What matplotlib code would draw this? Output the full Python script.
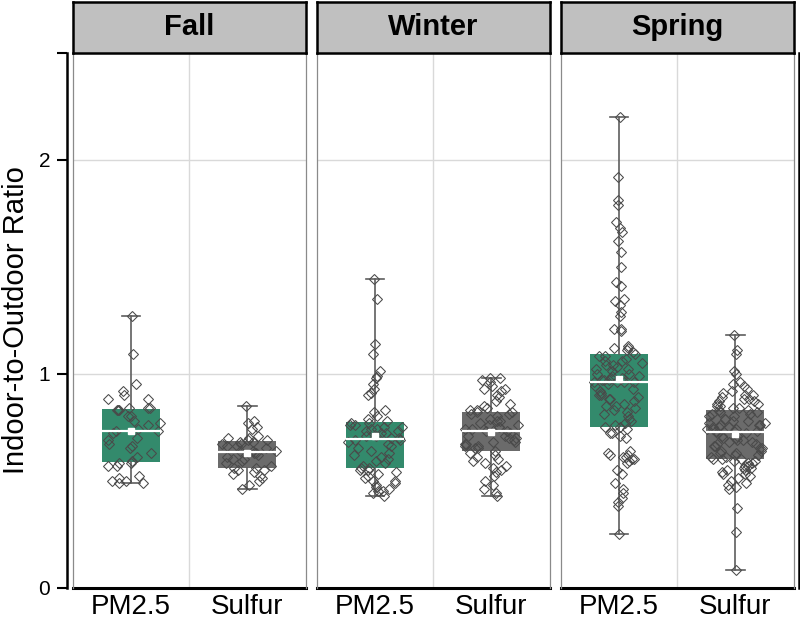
import numpy as np
import matplotlib
matplotlib.use("Agg")
import matplotlib.pyplot as plt
from matplotlib.lines import Line2D

plt.rcParams['font.family'] = ['Liberation Sans', 'DejaVu Sans']

"""Data: indoor-to-outdoor ratios read off the figure"""
seasons = ["Fall", "Winter", "Spring"]
species = ["PM2.5", "Sulfur"]

fall_pm25 = [1.27, 1.09, 0.95, 0.92, 0.90, 0.88, 0.88, 0.84, 0.84, 0.84,
             0.83, 0.83, 0.83, 0.80, 0.80, 0.78, 0.77, 0.76, 0.74, 0.73,
             0.73, 0.72, 0.70, 0.69, 0.67, 0.66, 0.65, 0.63, 0.61, 0.59,
             0.58, 0.58, 0.57, 0.57, 0.52, 0.51, 0.50, 0.50, 0.49, 0.49]
fall_sulfur = [0.85, 0.78, 0.77, 0.75, 0.74, 0.71, 0.70, 0.70, 0.69, 0.69,
               0.68, 0.68, 0.67, 0.67, 0.66, 0.66, 0.65, 0.64, 0.64, 0.64,
               0.63, 0.63, 0.62, 0.61, 0.60, 0.60, 0.59, 0.58, 0.57, 0.56,
               0.56, 0.55, 0.55, 0.54, 0.53, 0.52, 0.51, 0.50, 0.48, 0.46]
winter_pm25 = [1.44, 1.35, 1.14, 1.09, 1.01, 0.99, 0.98, 0.95, 0.93, 0.91, 0.90, 0.83, 0.82, 0.80, 0.79, 0.78,
               0.77, 0.77, 0.76, 0.76, 0.75, 0.75, 0.74, 0.74, 0.73, 0.73, 0.72, 0.72, 0.71, 0.71, 0.70, 0.70,
               0.69, 0.69, 0.68, 0.67, 0.66, 0.65, 0.64, 0.63, 0.62, 0.61, 0.60, 0.59, 0.58, 0.57, 0.56, 0.56,
               0.55, 0.55, 0.54, 0.53, 0.52, 0.51, 0.50, 0.50, 0.49, 0.48, 0.47, 0.46, 0.45, 0.45, 0.44, 0.43]
winter_sulfur = [0.98, 0.98, 0.97, 0.96, 0.94, 0.93, 0.93, 0.92, 0.90, 0.89, 0.87, 0.86, 0.85, 0.84, 0.83, 0.83,
                 0.82, 0.82, 0.81, 0.81, 0.80, 0.79, 0.78, 0.78, 0.77, 0.76, 0.76, 0.75, 0.75, 0.74, 0.74, 0.73,
                 0.73, 0.72, 0.71, 0.71, 0.70, 0.70, 0.69, 0.68, 0.68, 0.67, 0.67, 0.66, 0.66, 0.65, 0.65, 0.64,
                 0.63, 0.62, 0.61, 0.60, 0.59, 0.58, 0.57, 0.56, 0.55, 0.54, 0.52, 0.50, 0.48, 0.46, 0.44, 0.43]
spring_pm25 = [2.20, 1.92, 1.81, 1.79, 1.71, 1.68, 1.66, 1.62, 1.57, 1.50,
               1.43, 1.41, 1.35, 1.34, 1.32, 1.29, 1.27, 1.21, 1.21, 1.20,
               1.13, 1.12, 1.12, 1.11, 1.10,
               1.09, 1.08, 1.08, 1.07, 1.06, 1.06, 1.05, 1.04, 1.04, 1.03,
               1.02, 1.02, 1.01, 1.00, 1.00, 0.99, 0.99, 0.98, 0.98, 0.97,
               0.97, 0.97, 0.96, 0.96, 0.96,
               0.96, 0.95, 0.94, 0.93, 0.92, 0.91, 0.90, 0.90, 0.89, 0.88,
               0.88, 0.87, 0.86, 0.85, 0.85, 0.84, 0.83, 0.82, 0.81, 0.80,
               0.79, 0.78, 0.77, 0.76, 0.75,
               0.75, 0.74, 0.72, 0.72, 0.71, 0.70, 0.64, 0.63, 0.62, 0.62,
               0.61, 0.61, 0.60, 0.60, 0.59, 0.58, 0.55, 0.53, 0.49, 0.46,
               0.44, 0.42, 0.40, 0.38, 0.25]
spring_sulfur = [1.18, 1.11, 1.09, 1.01, 1.00, 0.96, 0.95, 0.94, 0.93, 0.92,
                 0.91, 0.90, 0.90, 0.89, 0.88, 0.88, 0.87, 0.87, 0.86, 0.86,
                 0.85, 0.85, 0.84, 0.84, 0.83,
                 0.83, 0.82, 0.82, 0.81, 0.81, 0.80, 0.80, 0.79, 0.79, 0.78,
                 0.78, 0.77, 0.77, 0.76, 0.76, 0.76, 0.75, 0.75, 0.75, 0.74,
                 0.74, 0.74, 0.73, 0.73, 0.73,
                 0.72, 0.72, 0.71, 0.71, 0.70, 0.70, 0.69, 0.69, 0.68, 0.68,
                 0.67, 0.67, 0.66, 0.66, 0.65, 0.65, 0.64, 0.64, 0.63, 0.63,
                 0.62, 0.62, 0.61, 0.61, 0.60,
                 0.60, 0.60, 0.59, 0.59, 0.58, 0.58, 0.57, 0.57, 0.56, 0.56,
                 0.55, 0.55, 0.54, 0.53, 0.53, 0.52, 0.51, 0.50, 0.49, 0.48,
                 0.47, 0.46, 0.37, 0.26, 0.08]

groups = {"Fall": [fall_pm25, fall_sulfur],
          "Winter": [winter_pm25, winter_sulfur],
          "Spring": [spring_pm25, spring_sulfur]}

"""Style"""
box_colors = ["#338a6c", "#6b6b6b"]
line_grey = "#5e5e5e"
grid_grey = "#d9d9d9"
W, H = 800, 621
panel_left = [73, 317, 561]  # px
panel_w = 232.5
panel_top, panel_bot = 52.7, 587.5
strip_top = 2.0

rng = np.random.default_rng(7)  # horizontal jitter only


def jitter_width(v, half=0.26, bw=0.05):
    # sina-like: spread scales with local point density
    v = np.asarray(v)
    d = np.exp(-0.5 * ((v[:, None] - v[None, :]) / bw) ** 2).sum(axis=1)
    return half * d / d.max()


fig = plt.figure(figsize=(8, 6.21), dpi=100)

for i, season in enumerate(seasons):
    ax = fig.add_axes([panel_left[i] / W, 1 - panel_bot / H,
                       panel_w / W, (panel_bot - panel_top) / H])
    vals = groups[season]
    bp = ax.boxplot(vals, positions=[1, 2], widths=0.5, whis=(0, 100),
                    patch_artist=True, showmeans=True, showfliers=False,
                    capwidths=0.16,
                    boxprops=dict(linewidth=0),
                    medianprops=dict(color="white", linewidth=1.6, zorder=4),
                    meanprops=dict(marker="s", markerfacecolor="white",
                                   markeredgecolor="white", markersize=4.5, zorder=5),
                    whiskerprops=dict(color=line_grey, linewidth=1.2),
                    capprops=dict(color=line_grey, linewidth=1.2))
    for patch, c in zip(bp["boxes"], box_colors):
        patch.set_facecolor(c)
        patch.set_edgecolor(c)

    for j, v in enumerate(vals):
        xj = j + 1 + rng.uniform(-1, 1, len(v)) * jitter_width(v)
        ax.plot(xj, v, "D", mfc="none", mec="#4a4a4a", mew=0.75, ms=4.8, zorder=3)

    ax.set_xlim(0.5, 2.5)
    ax.set_ylim(0, 2.5)
    ax.set_xticks([1, 2])
    ax.set_xticklabels(species, fontsize=20)
    ax.set_xticks([1.5], minor=True)
    ax.tick_params(axis="x", which="both", length=0, pad=5)
    ax.set_yticks([0, 1, 2, 2.5])
    ax.grid(which="minor", axis="x", color=grid_grey, lw=1)
    ax.grid(which="major", axis="y", color=grid_grey, lw=1)
    ax.set_axisbelow(True)

    for s in ["top", "left", "right"]:
        ax.spines[s].set_visible(False)
    ax.spines["bottom"].set_linewidth(2.2)
    ax.spines["bottom"].set_color("black")
    # thin panel frame on the sides
    for xe in [0, 1]:
        ax.add_line(Line2D([xe, xe], [0, 1], transform=ax.transAxes,
                           color="#8a8a8a", lw=0.9, zorder=6, clip_on=False))

    if i == 0:
        ax.spines["left"].set_visible(True)
        ax.spines["left"].set_position(("outward", 4.3))
        ax.spines["left"].set_linewidth(1.8)
        ax.spines["left"].set_color("black")
        ax.set_yticklabels(["0", "1", "2", ""], fontsize=15)
        ax.tick_params(axis="y", length=7, width=1.5, pad=5)
    else:
        ax.tick_params(axis="y", length=0, labelleft=False)
    if i == 2:
        ax.spines["right"].set_visible(True)
        ax.spines["right"].set_position(("outward", 3.6))
        ax.spines["right"].set_linewidth(1.8)
        ax.spines["right"].set_color("black")

    # facet strip
    sx = fig.add_axes([panel_left[i] / W, 1 - panel_top / H,
                       panel_w / W, (panel_top - strip_top) / H])
    sx.set_facecolor("#c0c0c0")
    sx.set_xticks([])
    sx.set_yticks([])
    for s in sx.spines.values():
        s.set_linewidth(1.8)
        s.set_color("black")
    sx.text(0.5, 0.5, season, ha="center", va="center", fontsize=21,
            fontweight="bold", transform=sx.transAxes)

fig.text(16 / W, 1 - (panel_top + panel_bot) / 2 / H, "Indoor-to-Outdoor Ratio",
         rotation=90, ha="center", va="center", fontsize=21)

fig.savefig("out.png", dpi=100)
